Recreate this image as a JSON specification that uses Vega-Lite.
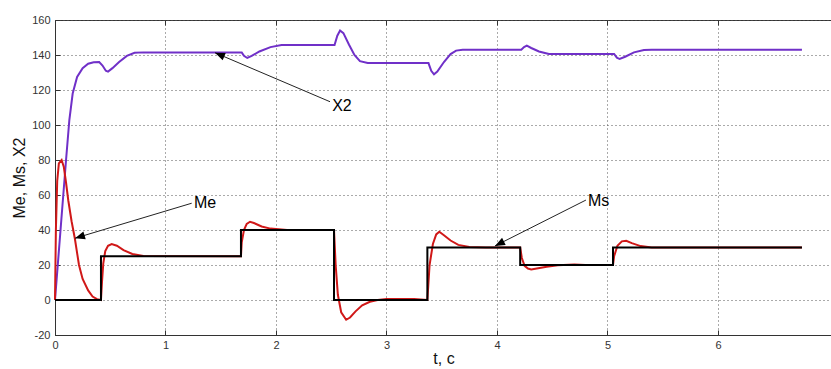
{
  "$schema": "https://vega.github.io/schema/vega-lite/v6.json",
  "autosize": {"type": "none"},
  "padding": {"left": 55, "top": 20, "right": 0, "bottom": 34},
  "width": 777,
  "height": 315,
  "background": "white",
  "config": {
    "view": {"stroke": "#333", "strokeWidth": 1},
    "axis": {
      "labelFont": "Liberation Sans",
      "titleFont": "Liberation Sans",
      "labelFontSize": 11,
      "labelColor": "#333",
      "titleColor": "#111",
      "titleFontSize": 16,
      "titleFontWeight": "normal",
      "domainColor": "#333",
      "tickColor": "#333",
      "gridColor": "#555",
      "gridDash": [1, 3],
      "gridOpacity": 1,
      "labelOverlap": false
    }
  },
  "datasets": {
    "x2": [
      {"t": 0, "v": 0}, {"t": 0.05, "v": 40}, {"t": 0.1, "v": 80}, {"t": 0.13, "v": 103},
      {"t": 0.16, "v": 118}, {"t": 0.2, "v": 127.5}, {"t": 0.25, "v": 132.5}, {"t": 0.3, "v": 135},
      {"t": 0.35, "v": 135.8}, {"t": 0.4, "v": 136}, {"t": 0.43, "v": 134}, {"t": 0.46, "v": 131},
      {"t": 0.48, "v": 130.5}, {"t": 0.52, "v": 132.5}, {"t": 0.58, "v": 136}, {"t": 0.65, "v": 139.5},
      {"t": 0.72, "v": 141.3}, {"t": 0.8, "v": 141.5}, {"t": 1.69, "v": 141.5}, {"t": 1.71, "v": 139.5},
      {"t": 1.74, "v": 138.3}, {"t": 1.78, "v": 139.5}, {"t": 1.85, "v": 142}, {"t": 1.95, "v": 144.5},
      {"t": 2.05, "v": 145.7}, {"t": 2.53, "v": 145.7}, {"t": 2.555, "v": 151}, {"t": 2.58, "v": 154},
      {"t": 2.61, "v": 152.5}, {"t": 2.66, "v": 146}, {"t": 2.71, "v": 140}, {"t": 2.76, "v": 136.5},
      {"t": 2.83, "v": 135.4}, {"t": 3.38, "v": 135.4}, {"t": 3.405, "v": 131}, {"t": 3.43, "v": 129},
      {"t": 3.46, "v": 130.5}, {"t": 3.52, "v": 136}, {"t": 3.58, "v": 140.5}, {"t": 3.63, "v": 142.5},
      {"t": 3.69, "v": 143}, {"t": 4.22, "v": 143}, {"t": 4.245, "v": 144.5}, {"t": 4.27, "v": 145.3},
      {"t": 4.31, "v": 144}, {"t": 4.38, "v": 142}, {"t": 4.47, "v": 140.6}, {"t": 5.06, "v": 140.6},
      {"t": 5.085, "v": 138.5}, {"t": 5.11, "v": 137.7}, {"t": 5.16, "v": 139}, {"t": 5.24, "v": 141.5},
      {"t": 5.33, "v": 142.8}, {"t": 5.4, "v": 143}, {"t": 6.76, "v": 143}
    ],
    "me": [
      {"t": 0, "v": 0}, {"t": 0.008, "v": 40}, {"t": 0.02, "v": 68}, {"t": 0.035, "v": 78},
      {"t": 0.06, "v": 80}, {"t": 0.08, "v": 76}, {"t": 0.1, "v": 67}, {"t": 0.12, "v": 57},
      {"t": 0.15, "v": 45}, {"t": 0.18, "v": 35}, {"t": 0.217, "v": 20}, {"t": 0.25, "v": 12},
      {"t": 0.3, "v": 5.5}, {"t": 0.34, "v": 2}, {"t": 0.38, "v": 0.5}, {"t": 0.416, "v": 0},
      {"t": 0.425, "v": 10}, {"t": 0.437, "v": 21}, {"t": 0.455, "v": 28}, {"t": 0.48, "v": 31},
      {"t": 0.513, "v": 32}, {"t": 0.56, "v": 31}, {"t": 0.62, "v": 28.5}, {"t": 0.7, "v": 26.3},
      {"t": 0.8, "v": 25.2}, {"t": 1.683, "v": 25}, {"t": 1.69, "v": 33}, {"t": 1.71, "v": 40},
      {"t": 1.735, "v": 43.5}, {"t": 1.765, "v": 44.7}, {"t": 1.8, "v": 44}, {"t": 1.87, "v": 42},
      {"t": 1.95, "v": 40.8}, {"t": 2.1, "v": 40}, {"t": 2.525, "v": 40}, {"t": 2.54, "v": 20},
      {"t": 2.56, "v": 3}, {"t": 2.59, "v": -7}, {"t": 2.635, "v": -11.3}, {"t": 2.67, "v": -10},
      {"t": 2.72, "v": -6.5}, {"t": 2.78, "v": -3}, {"t": 2.85, "v": -1}, {"t": 2.92, "v": 0},
      {"t": 3.0, "v": 0.6}, {"t": 3.25, "v": 0.6}, {"t": 3.37, "v": 0}, {"t": 3.39, "v": 20},
      {"t": 3.42, "v": 32}, {"t": 3.45, "v": 37.5}, {"t": 3.478, "v": 39}, {"t": 3.52, "v": 37},
      {"t": 3.58, "v": 34}, {"t": 3.65, "v": 31.5}, {"t": 3.75, "v": 30.3}, {"t": 3.9, "v": 30},
      {"t": 4.21, "v": 30}, {"t": 4.225, "v": 24}, {"t": 4.25, "v": 19.5}, {"t": 4.28, "v": 18},
      {"t": 4.31, "v": 17.5}, {"t": 4.36, "v": 18}, {"t": 4.45, "v": 19}, {"t": 4.55, "v": 19.8},
      {"t": 4.7, "v": 20.3}, {"t": 4.8, "v": 20}, {"t": 5.05, "v": 20}, {"t": 5.06, "v": 25},
      {"t": 5.09, "v": 31}, {"t": 5.13, "v": 33.5}, {"t": 5.17, "v": 33.8}, {"t": 5.22, "v": 32.5},
      {"t": 5.3, "v": 30.8}, {"t": 5.4, "v": 30}, {"t": 6.76, "v": 30}
    ],
    "ms": [
      {"t": 0, "v": 0}, {"t": 0.416, "v": 25}, {"t": 1.683, "v": 40}, {"t": 2.525, "v": 0},
      {"t": 3.37, "v": 30}, {"t": 4.21, "v": 20}, {"t": 5.05, "v": 30}, {"t": 6.76, "v": 30}
    ],
    "ann": [
      {"label": "X2", "t": 2.489, "v": 113.3, "t2": 1.448, "v2": 141.3, "tx": 2.49, "vx": 110.9},
      {"label": "Me", "t": 1.237, "v": 55.3, "t2": 0.181, "v2": 35.3, "tx": 1.24, "vx": 55.3},
      {"label": "Ms", "t": 4.805, "v": 57.1, "t2": 3.982, "v2": 30.9, "tx": 4.805, "vx": 56.6}
    ]
  },
  "layer": [
    {
      "data": {"name": "x2"},
      "mark": {"type": "line", "color": "#7030c8", "strokeWidth": 2},
      "encoding": {
        "x": {"field": "t", "type": "quantitative", "scale": {"domain": [0, 7.032], "nice": false, "zero": false},
          "axis": {"orient": "bottom", "values": [0, 1, 2, 3, 4, 5, 6], "grid": true, "tickSize": -5, "labelPadding": 9, "title": "t, c", "titlePadding": 0, "labelFlush": false, "labelOverlap": false}},
        "y": {"field": "v", "type": "quantitative", "scale": {"domain": [-20, 160], "nice": false, "zero": false},
          "axis": {"values": [-20, 0, 20, 40, 60, 80, 100, 120, 140, 160], "grid": true, "tickSize": -5, "labelPadding": 10, "title": "Me, Ms, X2", "titlePadding": 4, "labelFlush": false, "labelOverlap": false, "labelBound": false, "labelExpr": "replace(datum.label, '\u2212', '-')"}}
      }
    },
    {
      "data": {"name": "me"},
      "mark": {"type": "line", "color": "#d01818", "strokeWidth": 2},
      "encoding": {
        "x": {"field": "t", "type": "quantitative", "axis": null},
        "y": {"field": "v", "type": "quantitative", "axis": null}
      }
    },
    {
      "data": {"name": "ms"},
      "mark": {"type": "line", "color": "#000000", "strokeWidth": 2, "interpolate": "step-after"},
      "encoding": {
        "x": {"field": "t", "type": "quantitative", "axis": null},
        "y": {"field": "v", "type": "quantitative", "axis": null}
      }
    },
    {
      "data": {"name": "ann"},
      "mark": {"type": "rule", "color": "#222", "strokeWidth": 1},
      "encoding": {
        "x": {"field": "t", "type": "quantitative", "axis": {"orient": "top", "values": [1, 2, 3, 4, 5, 6], "labels": false, "domain": false, "grid": false, "tickSize": -5, "title": null}},
        "y": {"field": "v", "type": "quantitative", "axis": null},
        "x2": {"field": "t2"},
        "y2": {"field": "v2"}
      }
    },
    {
      "data": {"name": "ann"},
      "transform": [{"filter": "datum.label == 'X2'"}],
      "mark": {"type": "point", "shape": "M0,0L-0.4,1L0.4,1Z", "filled": true, "color": "#000", "opacity": 1, "size": 400, "angle": 293},
      "encoding": {
        "x": {"field": "t2", "type": "quantitative", "axis": null},
        "y": {"field": "v2", "type": "quantitative", "axis": null}
      }
    },
    {
      "data": {"name": "ann"},
      "transform": [{"filter": "datum.label == 'Me'"}],
      "mark": {"type": "point", "shape": "M0,0L-0.4,1L0.4,1Z", "filled": true, "color": "#000", "opacity": 1, "size": 400, "angle": 253},
      "encoding": {
        "x": {"field": "t2", "type": "quantitative", "axis": null},
        "y": {"field": "v2", "type": "quantitative", "axis": null}
      }
    },
    {
      "data": {"name": "ann"},
      "transform": [{"filter": "datum.label == 'Ms'"}],
      "mark": {"type": "point", "shape": "M0,0L-0.4,1L0.4,1Z", "filled": true, "color": "#000", "opacity": 1, "size": 400, "angle": 243},
      "encoding": {
        "x": {"field": "t2", "type": "quantitative", "axis": null},
        "y": {"field": "v2", "type": "quantitative", "axis": null}
      }
    },
    {
      "data": {"name": "ann"},
      "mark": {"type": "text", "align": "left", "baseline": "middle", "font": "Liberation Sans", "fontSize": 16, "color": "#000", "dx": 2},
      "encoding": {
        "x": {"field": "tx", "type": "quantitative", "axis": null},
        "y": {"field": "vx", "type": "quantitative", "axis": null},
        "text": {"field": "label"}
      }
    }
  ],
  "resolve": {"axis": {"x": "independent", "y": "independent"}}
}
